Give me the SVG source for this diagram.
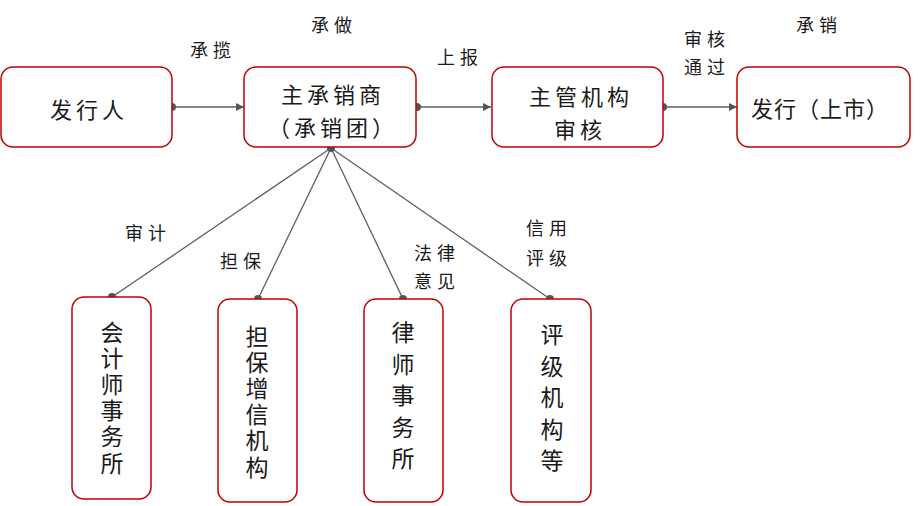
<svg xmlns="http://www.w3.org/2000/svg" width="921" height="506" viewBox="0 0 921 506">
<defs>
<style>
.box{fill:#fff;stroke:#c00000;stroke-width:1.5}
.t{font-family:"Noto Sans CJK SC","Noto Sans CJK TC",sans-serif;fill:#1a1a1a;text-anchor:middle;dominant-baseline:central}
.big{font-size:22px;letter-spacing:4px}
.vt{font-size:23px;writing-mode:vertical-rl}
.vs{letter-spacing:3.2px}
.vw{letter-spacing:8.5px}
.lbl{font-size:18px;letter-spacing:5px}
.ln{stroke:#5f5f5f;stroke-width:1.3;fill:none}
.dot{fill:#555}
</style>
<marker id="ah" viewBox="0 0 10 10" refX="10" refY="5" markerWidth="8" markerHeight="8" markerUnits="userSpaceOnUse" orient="auto">
<path d="M0,0 L10,5 L0,10 z" fill="#555"/>
</marker>
</defs>
<rect width="921" height="506" fill="#fff"/>
<g id="connectors">
<line class="ln" x1="172" y1="107" x2="244" y2="107" marker-end="url(#ah)"/>
<line class="ln" x1="416" y1="107" x2="491" y2="107" marker-end="url(#ah)"/>
<line class="ln" x1="663" y1="107" x2="737" y2="107" marker-end="url(#ah)"/>
<line class="ln" x1="331" y1="148" x2="112" y2="297"/>
<line class="ln" x1="331" y1="148" x2="258" y2="299"/>
<line class="ln" x1="331" y1="148" x2="403" y2="299"/>
<line class="ln" x1="331" y1="148" x2="550" y2="299"/>
<circle class="dot" cx="172" cy="107" r="4"/>
<circle class="dot" cx="417" cy="107" r="4"/>
<circle class="dot" cx="663" cy="107" r="4"/>
<circle class="dot" cx="331" cy="148" r="4"/>
<circle class="dot" cx="112" cy="297" r="4"/>
<circle class="dot" cx="258" cy="299" r="4"/>
<circle class="dot" cx="403" cy="299" r="4"/>
<circle class="dot" cx="550" cy="299" r="4"/>
</g>
<g id="labels">
<text class="t lbl" x="213" y="49">承揽</text>
<text class="t lbl" x="334" y="24">承做</text>
<text class="t lbl" x="460" y="56">上报</text>
<text class="t lbl" x="707"><tspan x="707" y="38">审核</tspan><tspan x="707" y="66">通过</tspan></text>
<text class="t lbl" x="819" y="24">承销</text>
<text class="t lbl" x="148" y="232">审计</text>
<text class="t lbl" x="243" y="260">担保</text>
<text class="t lbl" x="437"><tspan x="437" y="252">法律</tspan><tspan x="437" y="280">意见</tspan></text>
<text class="t lbl" x="549"><tspan x="549" y="227">信用</tspan><tspan x="549" y="257">评级</tspan></text>
</g>
<g id="n1">
<rect class="box" x="1" y="67" width="171" height="80" rx="12"/>
<text class="t big" x="89" y="108">发行人</text>
</g>
<g id="n2">
<rect class="box" x="244" y="67" width="172" height="80" rx="12"/>
<text class="t big" x="333"><tspan x="333" y="93">主承销商</tspan><tspan x="333" y="126">（承销团）</tspan></text>
</g>
<g id="n3">
<rect class="box" x="492" y="67" width="171" height="80" rx="12"/>
<text class="t big" x="581"><tspan x="581" y="95">主管机构</tspan><tspan x="580" y="128">审核</tspan></text>
</g>
<g id="n4">
<rect class="box" x="737" y="67" width="173" height="80" rx="12"/>
<text class="t big" x="820" y="107" style="letter-spacing:1px">发行（上市）</text>
</g>
<g id="n5">
<rect class="box" x="72" y="297" width="79" height="202" rx="12"/>
<text class="t vt vs" x="112" y="399">会计师事务所</text>
</g>
<g id="n6">
<rect class="box" x="218" y="299" width="79" height="203" rx="12"/>
<text class="t vt vs" x="257" y="403">担保增信机构</text>
</g>
<g id="n7">
<rect class="box" x="364" y="299" width="79" height="203" rx="12"/>
<text class="t vt vw" x="403" y="400">律师事务所</text>
</g>
<g id="n8">
<rect class="box" x="511" y="299" width="80" height="203" rx="12"/>
<text class="t vt vw" x="552" y="402">评级机构等</text>
</g>
</svg>
